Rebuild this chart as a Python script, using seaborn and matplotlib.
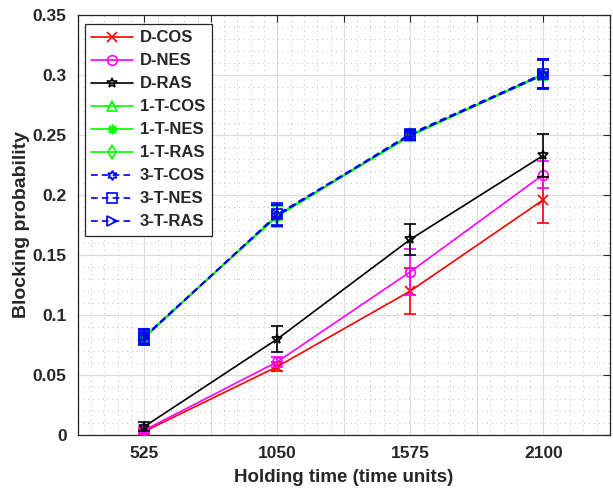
import numpy as np
import matplotlib
matplotlib.use("Agg")
import matplotlib.pyplot as plt
from matplotlib.ticker import MultipleLocator, FixedLocator, FixedFormatter
import seaborn as sns

# Holding times (time units)
holding_time = [525, 1050, 1575, 2100]

# Blocking probability per scheme, with error half-widths
d_cos = [0.003, 0.057, 0.120, 0.196]
d_cos_err = [0.002, 0.004, 0.019, 0.019]
d_nes = [0.004, 0.061, 0.136, 0.217]
d_nes_err = [0.002, 0.004, 0.019, 0.011]
d_ras = [0.007, 0.080, 0.163, 0.233]
d_ras_err = [0.004, 0.011, 0.013, 0.018]

t1_cos = [0.082, 0.183, 0.250, 0.300]
t1_cos_err = [0.006, 0.009, 0.004, 0.012]
t1_nes = [0.081, 0.183, 0.249, 0.301]
t1_nes_err = [0.006, 0.009, 0.004, 0.012]
t1_ras = [0.082, 0.182, 0.250, 0.300]
t1_ras_err = [0.006, 0.009, 0.004, 0.012]

t3_cos = [0.082, 0.183, 0.251, 0.301]
t3_cos_err = [0.006, 0.009, 0.004, 0.012]
t3_nes = [0.081, 0.184, 0.250, 0.301]
t3_nes_err = [0.006, 0.009, 0.004, 0.012]
t3_ras = [0.082, 0.183, 0.250, 0.300]
t3_ras_err = [0.006, 0.009, 0.004, 0.012]

y_tick_labels = ["0", "0.05", "0.1", "0.15", "0.2", "0.25", "0.3", "0.35"]

series = [
    ("D-COS", d_cos, d_cos_err, "#ff0000", "x", "-"),
    ("D-NES", d_nes, d_nes_err, "#ff00ff", "o", "-"),
    ("D-RAS", d_ras, d_ras_err, "#000000", "*", "-"),
    ("1-T-COS", t1_cos, t1_cos_err, "#00ff00", "^", "-"),
    ("1-T-NES", t1_nes, t1_nes_err, "#00ff00", (8, 2, 0), "-"),
    ("1-T-RAS", t1_ras, t1_ras_err, "#00ff00", "d", "-"),
    ("3-T-COS", t3_cos, t3_cos_err, "#0000ff", (6, 1, 0), (0, (4, 2.5))),
    ("3-T-NES", t3_nes, t3_nes_err, "#0000ff", "s", (0, (4, 2.5))),
    ("3-T-RAS", t3_ras, t3_ras_err, "#0000ff", ">", (0, (4, 2.5))),
]

sns.set_style("white")
plt.rcParams["font.family"] = ["Liberation Sans", "DejaVu Sans"]
plt.rcParams["font.weight"] = "bold"

fig = plt.figure(figsize=(6.13, 4.96), dpi=100)
ax = fig.add_axes([0.127, 0.123, 0.868, 0.847])

for name, vals, err, color, marker, ls in series:
    sns.lineplot(x=holding_time, y=vals, ax=ax, color=color, marker=marker,
                 linestyle=ls, linewidth=1.2, markersize=7,
                 markerfacecolor="none", markeredgecolor=color,
                 markeredgewidth=1.2, label=name, zorder=3)
    ax.errorbar(holding_time, vals, yerr=err, fmt="none", ecolor=color,
                elinewidth=1.2, capsize=4, capthick=1.2, zorder=3)

ax.set_xlim(262.5, 2362.5)
ax.set_ylim(0, 0.35)

# Major ticks every 262.5, labelled only at the holding times
major_x = [262.5 * k for k in range(1, 10)]
ax.xaxis.set_major_locator(FixedLocator(major_x))
ax.xaxis.set_major_formatter(FixedFormatter(
    [str(int(v)) if v in holding_time else "" for v in major_x]))
ax.xaxis.set_minor_locator(MultipleLocator(52.5))
ax.set_yticks([0, 0.05, 0.1, 0.15, 0.2, 0.25, 0.3, 0.35])
ax.set_yticklabels(y_tick_labels)
ax.yaxis.set_minor_locator(MultipleLocator(0.01))

ax.grid(which="major", color="#dcdcdc", linewidth=0.9, linestyle="-")
ax.grid(which="minor", color="#bdbdbd", linewidth=0.7, linestyle=(0, (1, 4)))
ax.set_axisbelow(True)

ax.tick_params(which="major", direction="in", length=5, width=0.8,
               labelsize=12.5, top=True, right=True, pad=8, color="#262626")
ax.tick_params(which="minor", length=0)
for lbl in ax.get_xticklabels() + ax.get_yticklabels():
    lbl.set_fontweight("bold")
    lbl.set_color("#262626")
for sp in ax.spines.values():
    sp.set_color("#262626")
    sp.set_linewidth(0.9)
    sp.set_visible(True)

ax.set_xlabel("Holding time (time units)", fontsize=13.5, fontweight="bold",
              color="#262626", labelpad=6)
ax.set_ylabel("Blocking probability", fontsize=14, fontweight="bold",
              color="#262626", labelpad=2)

leg = ax.legend(loc="upper left", bbox_to_anchor=(0.013, 0.979),
                borderaxespad=0, prop={"size": 12, "weight": "bold"},
                handlelength=2.5, labelspacing=0.48, borderpad=0.4,
                handletextpad=0.4, fancybox=False, framealpha=1,
                edgecolor="#262626")
leg.get_frame().set_linewidth(0.9)

fig.savefig("out.png", dpi=100)
